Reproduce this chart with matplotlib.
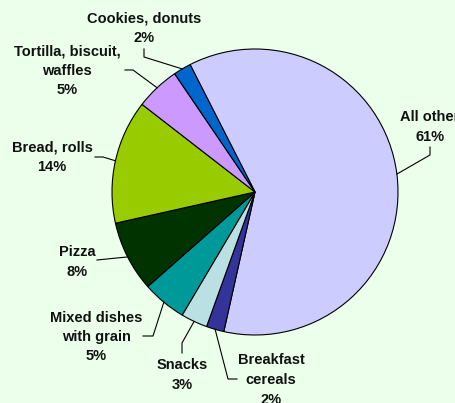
import numpy as np
import matplotlib
matplotlib.use("Agg")
import matplotlib.pyplot as plt

# slices, clockwise from the "All other" wedge
labels = ["All other", "Breakfast\ncereals", "Snacks", "Mixed dishes\nwith grain",
          "Pizza", "Bread, rolls", "Tortilla, biscuit,\nwaffles", "Cookies, donuts"]
shares = [61, 2, 3, 5, 8, 14, 5, 2]
colors = ["#CCCCFF", "#333399", "#BBE0E3", "#009999",
          "#003300", "#99CC00", "#CC99FF", "#0066CC"]

bg = "#EBFFEB"
W, H = 455, 403
cx, cy, R = 255, 192, 143   # pie centre / radius in pixels

# label block centre (px) and elbow points of the leader lines (px)
label_pos = [(430, 127), (271, 380), (182, 375), (96, 337),
             (77, 262), (52, 157), (67, 71), (144, 28)]
leader_pts = [[(430, 147), (430, 155)],
              [(237, 379), (228, 379)],
              [(182, 353), (182, 343)],
              [(143, 336), (153, 336)],
              [(97, 260)],
              [(95, 157), (103, 157)],
              [(125, 70), (133, 70)],
              [(144, 49), (144, 57)]]

fig = plt.figure(figsize=(W / 100, H / 100), dpi=100, facecolor=bg)
ax = fig.add_axes([(cx - R) / W, (H - cy - R) / H, 2 * R / W, 2 * R / H])
ax.set_facecolor(bg)

wedges, _ = ax.pie(shares, colors=colors, startangle=117, counterclock=False,
                   radius=1.0, wedgeprops=dict(edgecolor="black", linewidth=0.8))
ax.set_xlim(-1, 1)
ax.set_ylim(-1, 1)
ax.axis("off")

def to_data(p):
    return ((p[0] - cx) / R, (cy - p[1]) / R)

for w, lab, share, pos, pts in zip(wedges, labels, shares, label_pos, leader_pts):
    mid = np.deg2rad((w.theta1 + w.theta2) / 2)
    edge = (np.cos(mid), np.sin(mid))
    path = [to_data(p) for p in pts] + [edge]
    xs, ys = zip(*path)
    ax.plot(xs, ys, color="black", lw=0.8, clip_on=False)
    tx, ty = to_data(pos)
    ax.text(tx, ty, f"{lab}\n{share}%", ha="center", va="center",
            fontsize=10.5, fontweight="bold", family="Liberation Sans",
            linespacing=1.5, color="#111111", clip_on=False)

fig.savefig("out.png", dpi=100, facecolor=bg)
